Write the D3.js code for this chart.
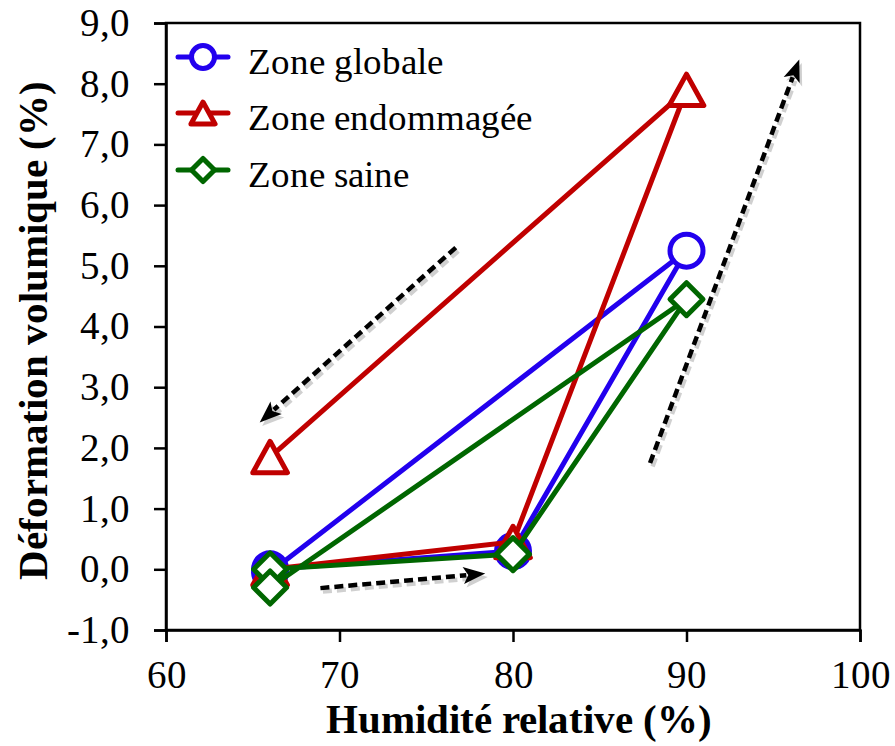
<!DOCTYPE html>
<html><head><meta charset="utf-8">
<script src="https://cdn.jsdelivr.net/npm/d3@7"></script>
<style>
@font-face{font-family:"ChartSerif";font-weight:normal;src:local("Liberation Serif"),local("LiberationSerif"),local("Times New Roman");}
@font-face{font-family:"ChartSerif";font-weight:bold;src:local("Liberation Serif Bold"),local("LiberationSerif-Bold"),local("Times New Roman Bold");}
body{margin:0;background:#fff;font-family:"Liberation Serif",serif}
svg{display:block}
</style>
</head><body>
<svg id="fig" width="895" height="746"></svg>
<script>
const humidity = [66, 80, 90, 66];
const zoneGlobale = [0.0, 0.3, 5.25, -0.05];
const zoneEndommagee = [0.0, 0.45, 7.9, 1.85];
const zoneSaine = [0.0, 0.25, 4.45, -0.3];
const seriesNames = ["Zone globale", "Zone endommagée", "Zone saine"];
const seriesColors = ["#2200EE", "#C00000", "#006600"];
const seriesSymbols = ["circle", "triangle", "diamond"];
const xTicks = [60, 70, 80, 90, 100];
const yTicks = [-1, 0, 1, 2, 3, 4, 5, 6, 7, 8, 9];
// annotation arrows in data units: [x1, y1, x2(tip), y2(tip)]
const arrows = [
  [76.7, 5.3, 65.4, 2.42],
  [68.9, -0.31, 78.4, -0.07],
  [87.9, 1.75, 96.5, 8.4]
];

const svg = d3.select("#fig");
const m = {left: 166, top: 23, right: 35, bottom: 116};
const W = 895 - m.left - m.right, H = 746 - m.top - m.bottom;
const x = d3.scaleLinear().domain([60, 100]).range([0, W]);
const y = d3.scaleLinear().domain([-1, 9]).range([H, 0]);
const FONT = "ChartSerif, 'Liberation Serif', 'Times New Roman', serif";
const setFont = (sel, size, bold) => sel
  .attr("font-family", FONT)
  .attr("font-size", size)
  .attr("font-weight", bold ? "bold" : "normal");

const g = svg.append("g").attr("transform", `translate(${m.left},${m.top})`);

// frame
g.append("rect").attr("x", 0).attr("y", 0).attr("width", W).attr("height", H)
  .attr("fill", "none").attr("stroke", "#000").attr("stroke-width", 2.5);

const fmtY = d => (d < 0 ? "-" : "") + Math.abs(d).toFixed(1).replace(".", ",");
const xAxis = g.append("g").attr("transform", `translate(0,${H})`)
  .call(d3.axisBottom(x).tickValues(xTicks).tickSize(12).tickPadding(18).tickFormat(d3.format("d")));
const yAxis = g.append("g")
  .call(d3.axisLeft(y).tickValues(yTicks).tickSize(12).tickPadding(24).tickFormat(fmtY));
[xAxis, yAxis].forEach(a => {
  a.attr("font-family", FONT).attr("font-size", 39);
  a.select(".domain").attr("stroke-width", 2.5);
  a.selectAll(".tick line").attr("stroke-width", 2.5);
  a.selectAll("text").attr("fill", "#000").call(setFont, 39, false);
});
xAxis.selectAll("text").attr("dy", "0.71em");

// axis titles
svg.append("text").attr("x", 519).attr("y", 733).attr("text-anchor", "middle")
  .call(setFont, 41, true).text("Humidité relative (%)");
svg.append("text").attr("transform", "translate(47,330) rotate(-90)").attr("text-anchor", "middle")
  .call(setFont, 41, true).text("Déformation volumique (%)");

// arrows (with soft offset shadow)
const arrowG = g.append("g");
[["#000", 0.18, 2.5, 3.5], ["#000", 1, 0, 0]].forEach(([col, op, dx, dy]) => {
  const layer = arrowG.append("g").attr("transform", `translate(${dx},${dy})`).attr("opacity", op);
  arrows.forEach(a => {
    const x1 = x(a[0]), y1 = y(a[1]), x2 = x(a[2]), y2 = y(a[3]);
    const ang = Math.atan2(y2 - y1, x2 - x1);
    const hl = 22, hw = 8.5;
    const bx = x2 - hl * Math.cos(ang), by = y2 - hl * Math.sin(ang);
    layer.append("line").attr("x1", x1).attr("y1", y1).attr("x2", bx + 3 * Math.cos(ang)).attr("y2", by + 3 * Math.sin(ang))
      .attr("stroke", col).attr("stroke-width", 4.5).attr("stroke-dasharray", "9,5");
    const px = -Math.sin(ang), py = Math.cos(ang);
    layer.append("path")
      .attr("d", `M${x2},${y2}L${bx + hw * px},${by + hw * py}L${bx + 5 * Math.cos(ang)},${by + 5 * Math.sin(ang)}L${bx - hw * px},${by - hw * py}Z`)
      .attr("fill", col);
  });
});

function markerPath(type, r) {
  if (type === "triangle") {
    const h = r * 1.9, w = r * 1.05;
    return `M0,${-h / 2}L${w},${h / 2}L${-w},${h / 2}Z`;
  }
  return `M0,${-r}L${r},0L0,${r}L${-r},0Z`;
}
function drawMarker(sel, type, cx, cy, r, color) {
  if (type === "circle") {
    sel.append("circle").attr("cx", cx).attr("cy", cy).attr("r", r)
      .attr("fill", "#fff").attr("stroke", color).attr("stroke-width", 5);
  } else {
    sel.append("path").attr("transform", `translate(${cx},${cy})`).attr("d", markerPath(type, r))
      .attr("fill", "#fff").attr("stroke", color).attr("stroke-width", 5).attr("stroke-linejoin", "round");
  }
}

const allSeries = [zoneGlobale, zoneEndommagee, zoneSaine];
const line = d3.line().x(d => x(d[0])).y(d => y(d[1]));
allSeries.forEach((vals, i) => {
  const pts = humidity.map((h, j) => [h, vals[j]]);
  const sg = g.append("g");
  sg.append("path").attr("d", line(pts)).attr("fill", "none").attr("stroke", seriesColors[i])
    .attr("stroke-width", 5).attr("stroke-linejoin", "round");
  pts.forEach(p => drawMarker(sg, seriesSymbols[i], x(p[0]), y(p[1]), 16.5, seriesColors[i]));
});

// legend
const lg = svg.append("g");
const legendRows = [57, 113, 170];
seriesNames.forEach((name, i) => {
  const cy = legendRows[i];
  lg.append("line").attr("x1", 178).attr("x2", 228).attr("y1", cy).attr("y2", cy)
    .attr("stroke", seriesColors[i]).attr("stroke-width", 5).attr("stroke-linecap", "round");
  drawMarker(lg, seriesSymbols[i], 203, cy, 11.5, seriesColors[i]);
  lg.append("text").attr("x", 248).attr("y", cy + 17).call(setFont, 37, false)
    .attr("fill", "#000").text(name);
});
</script>
</body></html>
